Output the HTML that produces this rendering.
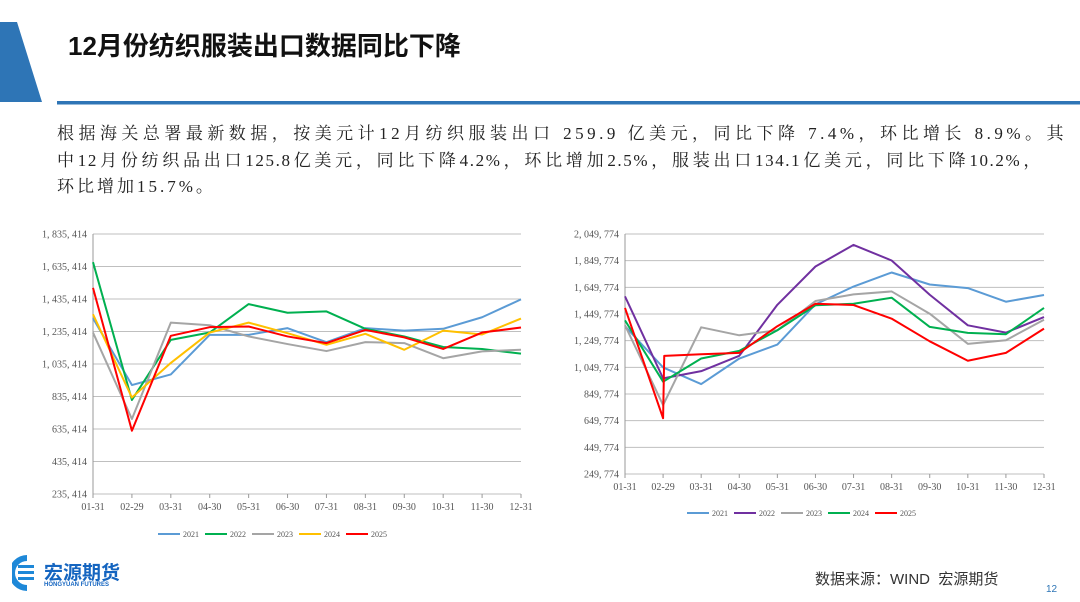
<!DOCTYPE html>
<html><head><meta charset="utf-8">
<style>
body{margin:0;width:1080px;height:602px;background:#fff;overflow:hidden;position:relative;font-family:"Liberation Sans","Noto Sans CJK SC",sans-serif}
.abs{position:absolute}
#title{left:68px;top:26px;font-size:26px;font-weight:bold;color:#111;white-space:nowrap}
.para{left:57px;font-size:17px;color:#222;white-space:nowrap;font-family:"Liberation Serif","Noto Serif CJK SC",serif;text-align:justify;text-align-last:justify}
svg text{font-family:"Liberation Serif","Noto Serif CJK SC",serif;fill:#555}
</style></head><body>
<svg class="abs" style="left:0;top:0" width="1080" height="110">
<polygon points="0,22 17,22 42,102 0,102" fill="#2e75b6"/>
<rect x="57" y="101" width="1023" height="3.5" fill="#2e75b6"/>
</svg>
<div id="title" class="abs">12月份纺织服装出口数据同比下降</div>
<div class="abs para" style="top:119px;width:1010px;letter-spacing:3.5px">根据海关总署最新数据，按美元计12月纺织服装出口 259.9 亿美元，同比下降 7.4%，环比增长 8.9%。其</div>
<div class="abs para" style="top:146px;width:985px;letter-spacing:1.6px">中12月份纺织品出口125.8亿美元，同比下降4.2%，环比增加2.5%，服装出口134.1亿美元，同比下降10.2%，</div>
<div class="abs para" style="top:172px;letter-spacing:3px;text-align-last:auto">环比增加15.7%。</div>

<svg id="c1" class="abs" style="left:0;top:210px" width="540" height="340"></svg>
<svg id="c2" class="abs" style="left:540px;top:210px" width="540" height="320"></svg>

<svg class="abs" style="left:12px;top:553px" width="30" height="40">
<path d="M15,2 A17,17 0 1,0 15,38 L15,32 A12,12 0 1,1 15,8 Z" fill="#1e88d8"/>
<rect x="6" y="12" width="16" height="3" fill="#1e88d8"/><rect x="6" y="18" width="16" height="3" fill="#1e88d8"/><rect x="6" y="24" width="16" height="3" fill="#1e88d8"/>
</svg>
<div class="abs" style="left:44px;top:558px;font-size:19px;font-weight:bold;color:#1565c0">宏源期货</div>
<div class="abs" style="left:44px;top:582px;font-size:6px;font-weight:bold;color:#1565c0">HONGYUAN FUTURES</div>
<div class="abs" style="left:815px;top:568px;font-size:15px;color:#333">数据来源：WIND&nbsp;&nbsp;宏源期货</div>
<div class="abs" style="left:1046px;top:584px;font-size:10px;color:#2e75b6">12</div>

<script>
const cats=["01-31","02-29","03-31","04-30","05-31","06-30","07-31","08-31","09-30","10-31","11-30","12-31"];
const years=["2021","2022","2023","2024","2025"];
const c1Ticks=[235414,435414,635414,835414,1035414,1235414,1435414,1635414,1835414];
const c1_2021=[1317,906,971,1215,1215,1256,1170,1256,1241,1252,1323,1433];
const c1_2022=[1662,814,1184,1229,1404,1351,1359,1252,1205,1140,1128,1099];
const c1_2023=[1229,697,1290,1274,1205,1158,1115,1170,1164,1071,1113,1123];
const c1_2024=[1341,829,1042,1229,1290,1225,1154,1221,1123,1241,1217,1315];
const c1_2025=[1504,625,1209,1262,1266,1205,1164,1245,1199,1128,1229,1260];
const c1Colors=["#5b9bd5","#00b050","#a5a5a5","#ffc000","#ff0000"];
const c2Ticks=[249774,449774,649774,849774,1049774,1249774,1449774,1649774,1849774,2049774];
const c2_2021=[1358,1049,924,1116,1221,1522,1656,1761,1671,1644,1542,1592];
const c2_2022=[1582,967,1021,1136,1519,1806,1968,1851,1594,1365,1310,1427];
const c2_2023=[1365,767,1350,1290,1328,1547,1597,1619,1452,1226,1253,1407];
const c2_2024=[1402,942,1116,1173,1328,1515,1527,1572,1353,1308,1298,1495];
const c2_2025=[1495,668,1136,1148,1158,1358,1527,1517,1415,1245,1099,1158,1340];
const c2_2025_idx=[0,1,1.03,2,3,4,5,6,7,8,9,10,11];
const c2Colors=["#5b9bd5","#7030a0","#a5a5a5","#00b050","#ff0000"];
const NS="http://www.w3.org/2000/svg";
function mk(p,t,a){const e=document.createElementNS(NS,t);for(const k in a)e.setAttribute(k,a[k]);p.appendChild(e);return e;}
function fmt(v){return v.toLocaleString("en-US").replace(/,/g,", ");}
function draw(id,ticks,series,idxs,colors,L,R,T,B,legY,legX){
  const s=document.getElementById(id);
  const lo=ticks[0],hi=ticks[ticks.length-1];
  const y=v=>B-(v-lo)/(hi-lo)*(B-T);
  const x=i=>L+i*(R-L)/(cats.length-1);
  ticks.forEach(t=>{
    const g=mk(s,"line",{x1:L,x2:R,y1:y(t),y2:y(t),stroke:"#bfbfbf","stroke-width":1});
    
    const tx=mk(s,"text",{x:L-6,y:y(t)+3.5,"text-anchor":"end","font-size":10});
    tx.textContent=fmt(t);
    
  });
  mk(s,"line",{x1:L,x2:L,y1:T,y2:B,stroke:"#999"});
  cats.forEach((c,i)=>{
    mk(s,"line",{x1:x(i),x2:x(i),y1:B,y2:B+4,stroke:"#999"});
    const tx=mk(s,"text",{x:x(i),y:B+16,"text-anchor":"middle","font-size":10});
    tx.textContent=c;
    
  });
  series.forEach((d,k)=>{
    const ix=idxs[k]||d.map((_,i)=>i);
    const pts=d.map((v,i)=>x(ix[i])+","+y(v*1000)).join(" ");
    const pl=mk(s,"polyline",{points:pts,fill:"none",stroke:colors[k],"stroke-width":2,"stroke-linejoin":"round"});
    
    const lx=legX+k*47;
    const ll=mk(s,"line",{x1:lx,x2:lx+22,y1:legY,y2:legY,stroke:colors[k],"stroke-width":2});
    
    const lt=mk(s,"text",{x:lx+25,y:legY+3,"font-size":8});
    lt.textContent=years[k];
    
  });
}
draw("c1",c1Ticks,[c1_2021,c1_2022,c1_2023,c1_2024,c1_2025],[],c1Colors,93,521,24,284,324,158);
draw("c2",c2Ticks,[c2_2021,c2_2022,c2_2023,c2_2024,c2_2025],[null,null,null,null,c2_2025_idx],c2Colors,85,504,24,264,303,147);
</script>
</body></html>
